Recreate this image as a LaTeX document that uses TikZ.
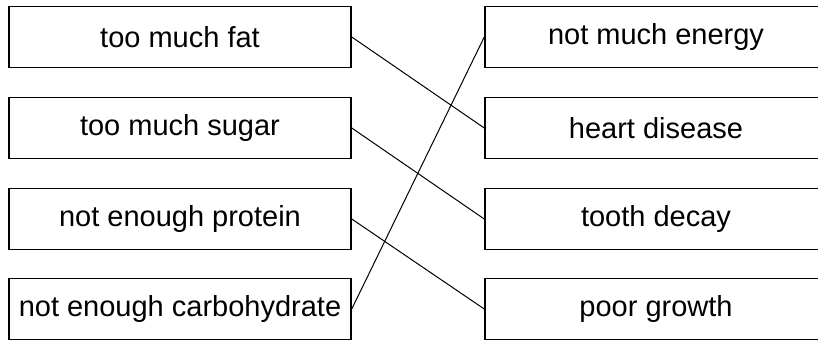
\documentclass[tikz,border=0pt]{standalone}
\usepackage{fontspec}
\setmainfont{Liberation Sans}
\usepackage{tikz}
\usetikzlibrary{positioning}

\begin{document}
\begin{tikzpicture}[x=0.5pt,y=-0.5pt,
        box/.style={draw,line width=0.75pt,rectangle,inner sep=0pt,
            minimum width=171pt,minimum height=30.5pt,font=\fontsize{14.5pt}{16pt}\selectfont},
        link/.style={draw,line width=0.5pt},
  ]
    \useasboundingbox (0,0) rectangle (818,342);
    \clip (0,0) rectangle (818,342);

    % causes
    \node[box] (fat)     at (180,37)  {too much fat};
    \node[box] (sugar)   at (180,128) {too much sugar};
    \node[box] (protein) at (180,219) {not enough protein};
    \node[box] (carb)    at (180,309) {not enough carbohydrate};

    % effects
    \node[box] (energy)  at (656,37)  {not much energy};
    \node[box] (heart)   at (656,128) {heart disease};
    \node[box] (tooth)   at (656,219) {tooth decay};
    \node[box] (growth)  at (656,309) {poor growth};

    \draw[link] (fat.east) -- (heart.west);
    \draw[link] (sugar.east) -- (tooth.west);
    \draw[link] (protein.east) -- (growth.west);
    \draw[link] (carb.east) -- (energy.west);
\end{tikzpicture}
\end{document}
